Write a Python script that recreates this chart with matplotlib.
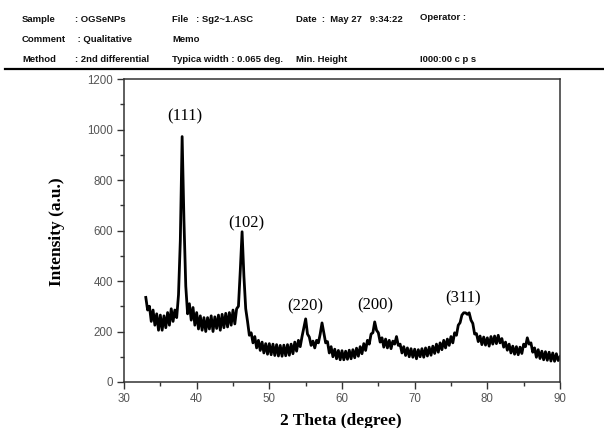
import numpy as np
import matplotlib
matplotlib.use('Agg')
import matplotlib.pyplot as plt
from matplotlib.ticker import MultipleLocator

# XRD pattern, 0.25 deg steps from 33 to 90 (upper/lower edge of the noise band)
start_deg = 33.0
step_deg = 0.25
intensity = [
    335, 285, 300, 240,  285, 225, 270, 205,  265, 205, 262, 215,  275, 225, 290, 240,   # 33-36
    285, 255, 345, 560,  972, 640, 380, 270,  310, 245, 295, 225,  275, 210, 262, 205,   # 37-40
    255, 200, 255, 210,  262, 200, 258, 212,  265, 205, 268, 215,  272, 218, 275, 225,   # 41-44
    285, 230, 290, 300,  440, 595, 420, 290,  240, 185, 195, 155,  180, 135, 165, 125,   # 45-48
    158, 115, 152, 110,  152, 108, 150, 105,  148, 103, 145, 102,  146, 104, 148, 106,   # 49-52
    150, 112, 158, 122,  165, 140, 180, 215,  250, 190, 178, 145,  162, 135, 165, 155,   # 53-56
    190, 234, 195, 155,  160, 115, 140, 100,  130, 92, 125, 88,    124, 88, 122, 90,     # 57-60
    126, 92, 128, 96,    134, 102, 140, 112,  152, 125, 165, 150,  190, 195, 238, 205,   # 61-64
    195, 158, 175, 138,  170, 135, 165, 132,  162, 150, 180, 145,  150, 115, 140, 105,   # 65-68
    135, 100, 132, 98,   130, 92, 128, 100,   132, 98, 135, 103,   138, 106, 142, 113,   # 69-72
    150, 118, 155, 128,  165, 135, 170, 145,  180, 155, 195, 185,  225, 235, 265, 274,   # 73-76
    274, 268, 274, 245,  232, 190, 192, 160,  182, 148, 178, 146,  175, 142, 180, 150,   # 77-80
    182, 152, 185, 155,  172, 138, 158, 126,  150, 115, 142, 110,  140, 108, 138, 113,   # 81-84
    150, 140, 175, 150,  155, 118, 135, 98,   128, 93, 122, 88,    120, 86, 118, 83,     # 85-88
    115, 82, 112, 85,  100,                                                            # 89-90
]
two_theta = start_deg + step_deg * np.arange(len(intensity))

# peak labels
peak_labels = ['(111)', '(102)', '(220)', '(200)', '(311)']
label_x = [38.3, 46.9, 54.9, 64.6, 76.7]
label_y = [1052, 627, 298, 302, 330]

# header block of the instrument report
header_rows = [
    ['Sample', ': OGSeNPs', 'File   : Sg2~1.ASC', 'Date  :  May 27   9:34:22', 'Operator :'],
    ['Comment', ' : Qualitative', 'Memo', '', ''],
    ['Method', ': 2nd differential', 'Typica width : 0.065 deg.', 'Min. Height', 'I000:00 c p s'],
]
header_x = [22, 75, 172, 296, 420]
header_y = [20, 39, 59]

W, H = 604, 428
fig = plt.figure(figsize=(W / 100, H / 100), dpi=100)

for r, row in enumerate(header_rows):
    for c, txt in enumerate(row):
        if txt:
            yy = header_y[r] - (3 if txt.startswith('Operator') else 0)
            fig.text(header_x[c] / W, 1 - yy / H, txt, fontsize=6.8, fontweight='bold',
                     family='Liberation Sans', va='center', ha='left', color='#111111')
fig.add_artist(plt.Line2D([5 / W, 1], [1 - 69 / H, 1 - 69 / H], color='black', lw=1.6))

ax = fig.add_axes([124 / W, 1 - 382 / H, (560 - 124) / W, (382 - 79) / H])
ax.plot(two_theta, intensity, color='black', lw=2.0)

for lab, x, y in zip(peak_labels, label_x, label_y):
    ax.text(x, y, lab, ha='center', va='center', fontsize=12, family='Liberation Serif')

ax.set_xlim(30, 90)
ax.set_ylim(0, 1200)
ax.xaxis.set_major_locator(MultipleLocator(10))
ax.xaxis.set_minor_locator(MultipleLocator(5))
ax.yaxis.set_major_locator(MultipleLocator(200))
ax.yaxis.set_minor_locator(MultipleLocator(100))
ax.tick_params(which='major', length=5, width=1, color='#333333', labelsize=8.3,
               labelcolor='#555555', pad=3)
ax.tick_params(which='minor', length=3, width=1, color='#333333')
for lbl in ax.get_xticklabels() + ax.get_yticklabels():
    lbl.set_family('Liberation Sans')
for s in ax.spines.values():
    s.set_color('#333333')
    s.set_linewidth(1.1)

fig.text(341 / W, 1 - 421 / H, '2 Theta (degree)', ha='center', va='center', fontsize=12.5,
         fontweight='bold', family='Liberation Serif')
fig.text(57 / W, 1 - 232 / H, 'Intensity (a.u.)', ha='center', va='center', rotation=90,
         fontsize=12.5, fontweight='bold', family='Liberation Serif')

fig.savefig('out.png', dpi=100)
